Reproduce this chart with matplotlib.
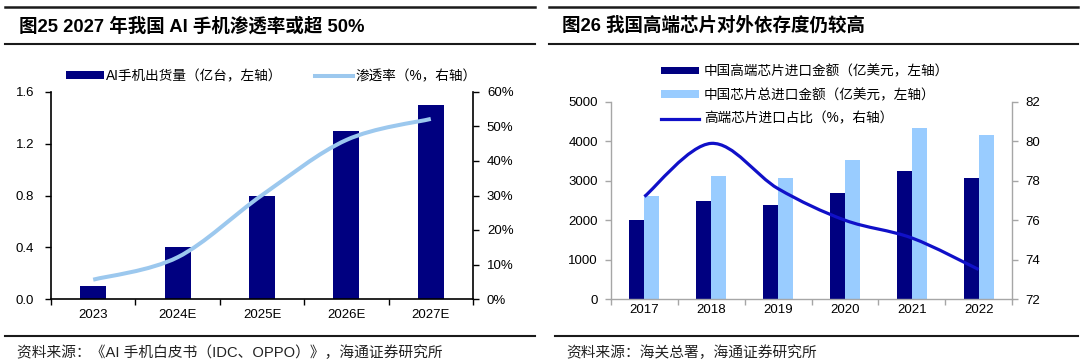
import matplotlib
matplotlib.use('Agg')
import matplotlib.pyplot as plt
from matplotlib.path import Path
from matplotlib.patches import PathPatch, Patch
from matplotlib.lines import Line2D
from matplotlib.ticker import FuncFormatter
import numpy as np

plt.rcParams['font.family'] = ['Liberation Sans', 'Noto Sans CJK SC']

# ---------------- data ----------------
years_left = ['2023', '2024E', '2025E', '2026E', '2027E']
ai_phone_shipments = [0.1, 0.4, 0.8, 1.3, 1.5]          # 亿台
ai_phone_penetration = [5.6, 12.1, 30.1, 46.1, 52.2]    # %

years_right = ['2017', '2018', '2019', '2020', '2021', '2022']
highend_chip_import = [2015, 2500, 2390, 2680, 3250, 3060]   # 亿美元
total_chip_import = [2610, 3130, 3070, 3520, 4330, 4170]     # 亿美元
highend_share = [77.2, 79.9, 77.6, 76.0, 75.1, 73.5]         # %

title_left = '图25 2027 年我国 AI 手机渗透率或超 50%'
title_right = '图26 我国高端芯片对外依存度仍较高'
source_left = '资料来源：《AI 手机白皮书（IDC、OPPO）》，海通证券研究所'
source_right = '资料来源：海关总署，海通证券研究所'
legend_left = ['AI手机出货量（亿台，左轴）', '渗透率（%，右轴）']
legend_right = ['中国高端芯片进口金额（亿美元，左轴）', '中国芯片总进口金额（亿美元，左轴）',
                '高端芯片进口占比（%，右轴）']

NAVY = '#000080'
LIGHT = '#99CCFF'
LINE_LIGHT = '#9CC8EE'
LINE_BLUE = '#1010C8'
GREY = '#A6A6A6'

W, H = 1080, 364
fig = plt.figure(figsize=(W / 100, H / 100), dpi=100)
fig.patch.set_facecolor('white')


def fx(px):
    return px / W


def fy(py):
    return 1 - py / H


def smooth_path(x, y):
    x = np.asarray(x, float)
    y = np.asarray(y, float)
    pts = np.column_stack([x, y])
    n = len(pts)
    verts = [tuple(pts[0])]
    codes = [Path.MOVETO]
    for i in range(n - 1):
        p0 = pts[i - 1] if i > 0 else pts[i]
        p1 = pts[i]
        p2 = pts[i + 1]
        p3 = pts[i + 2] if i + 2 < n else pts[i + 1]
        c1 = p1 + (p2 - p0) / 6.0
        c2 = p2 - (p3 - p1) / 6.0
        verts += [tuple(c1), tuple(c2), tuple(p2)]
        codes += [Path.CURVE4] * 3
    return Path(verts, codes)


def hline(x0, x1, y, lw=1.6):
    fig.add_artist(Line2D([fx(x0), fx(x1)], [fy(y), fy(y)], transform=fig.transFigure,
                          color='#1a1a1a', lw=lw))


TICK_FS = 9.5

# ---------------- left chart ----------------
axL = fig.add_axes([fx(51), fy(299), fx(473) - fx(51), fy(92) - fy(299)])
xl = np.arange(len(years_left))
axL.bar(xl, ai_phone_shipments, width=0.31, color=NAVY, zorder=2)
axL.set_xlim(-0.5, len(years_left) - 0.5)
axL.set_ylim(0, 1.6)
axL.set_yticks(np.arange(0, 1.61, 0.4))
axL.yaxis.set_major_formatter(FuncFormatter(lambda v, p: f'{v:.1f}'))
axL.set_xticks(xl)
axL.set_xticklabels(years_left)
axL.set_xticks(np.arange(-0.5, len(years_left), 1), minor=True)
axL.tick_params(axis='x', which='major', length=0, pad=7.5, labelsize=TICK_FS)
axL.tick_params(axis='x', which='minor', length=4, width=1, direction='out', color='black')
axL.tick_params(axis='y', length=4, width=1, direction='out', pad=8, labelsize=TICK_FS)
for s in ['top', 'right']:
    axL.spines[s].set_visible(False)
for s in ['left', 'bottom']:
    axL.spines[s].set_linewidth(1.2)
    axL.spines[s].set_color('black')

axL2 = axL.twinx()
axL2.set_ylim(0, 60)
axL2.set_yticks(np.arange(0, 61, 10))
axL2.yaxis.set_major_formatter(FuncFormatter(lambda v, p: f'{v:.0f}%'))
axL2.tick_params(axis='y', length=4, width=1, direction='out', pad=6, labelsize=TICK_FS)
for s in ['top', 'left', 'bottom']:
    axL2.spines[s].set_visible(False)
axL2.spines['right'].set_linewidth(1.2)
axL2.spines['right'].set_color('black')
axL2.add_patch(PathPatch(smooth_path(xl, ai_phone_penetration), fill=False,
                         edgecolor=LINE_LIGHT, lw=2.9, capstyle='butt', zorder=3))

fig.legend([Patch(facecolor=NAVY, edgecolor='none'), Line2D([], [], color=LINE_LIGHT, lw=2.9)],
           legend_left, ncol=2, loc='center left', bbox_to_anchor=(fx(66), fy(76)),
           frameon=False, borderpad=0, borderaxespad=0, handlelength=2.8, handleheight=0.45,
           handletextpad=0.15, columnspacing=2.4, fontsize=9.8)

# ---------------- right chart ----------------
axR = fig.add_axes([fx(611), fy(299), fx(1012) - fx(611), fy(102) - fy(299)])
xr = np.arange(len(years_right))
bw = 0.225
axR.bar(xr - bw / 2, highend_chip_import, width=bw, color=NAVY, zorder=2)
axR.bar(xr + bw / 2, total_chip_import, width=bw, color=LIGHT, zorder=2)
axR.set_xlim(-0.5, len(years_right) - 0.5)
axR.set_ylim(0, 5000)
axR.set_yticks(np.arange(0, 5001, 1000))
axR.set_xticks(xr)
axR.set_xticklabels(years_right)
axR.set_xticks(np.arange(-0.5, len(years_right), 1), minor=True)
axR.tick_params(axis='x', which='major', length=0, pad=3.5, labelsize=TICK_FS)
axR.tick_params(axis='x', which='minor', length=4, width=1, direction='out', color=GREY)
axR.tick_params(axis='y', length=4, width=1, direction='out', pad=5.5, labelsize=TICK_FS, color=GREY)
for s in ['top', 'right']:
    axR.spines[s].set_visible(False)
for s in ['left', 'bottom']:
    axR.spines[s].set_linewidth(1.0)
    axR.spines[s].set_color(GREY)

axR2 = axR.twinx()
axR2.set_ylim(72, 82)
axR2.set_yticks(np.arange(72, 83, 2))
axR2.tick_params(axis='y', length=4, width=1, direction='out', pad=5.8, labelsize=TICK_FS, color=GREY)
for s in ['top', 'left', 'bottom']:
    axR2.spines[s].set_visible(False)
axR2.spines['right'].set_linewidth(1.0)
axR2.spines['right'].set_color(GREY)
axR2.add_patch(PathPatch(smooth_path(xr, highend_share), fill=False,
                         edgecolor=LINE_BLUE, lw=2.3, capstyle='butt', zorder=3))

fig.legend([Patch(facecolor=NAVY, edgecolor='none'), Patch(facecolor=LIGHT, edgecolor='none'),
            Line2D([], [], color=LINE_BLUE, lw=2.3)],
           legend_right, ncol=1, loc='center left', bbox_to_anchor=(fx(661), fy(95)),
           frameon=False, borderpad=0, borderaxespad=0, handlelength=2.8, handleheight=0.45,
           handletextpad=0.35, labelspacing=0.72, fontsize=9.8)

# ---------------- titles, rules, sources ----------------
hline(5, 535, 7, lw=1.8)
hline(5, 535, 44, lw=1.5)
hline(549, 1078, 7, lw=1.8)
hline(549, 1078, 44, lw=1.5)
hline(5, 535, 336, lw=1.5)
hline(555, 1078, 336, lw=1.5)

fig.text(fx(19), fy(26), title_left, fontsize=13.3, fontweight='bold', va='center', ha='left')
fig.text(fx(562), fy(26), title_right, fontsize=13.3, fontweight='bold', va='center', ha='left')
fig.text(fx(17), fy(353), source_left, fontsize=10.6, va='center', ha='left', color='#222222')
fig.text(fx(566), fy(353), source_right, fontsize=10.6, va='center', ha='left', color='#222222')

fig.savefig('out.png', dpi=100, facecolor='white')
